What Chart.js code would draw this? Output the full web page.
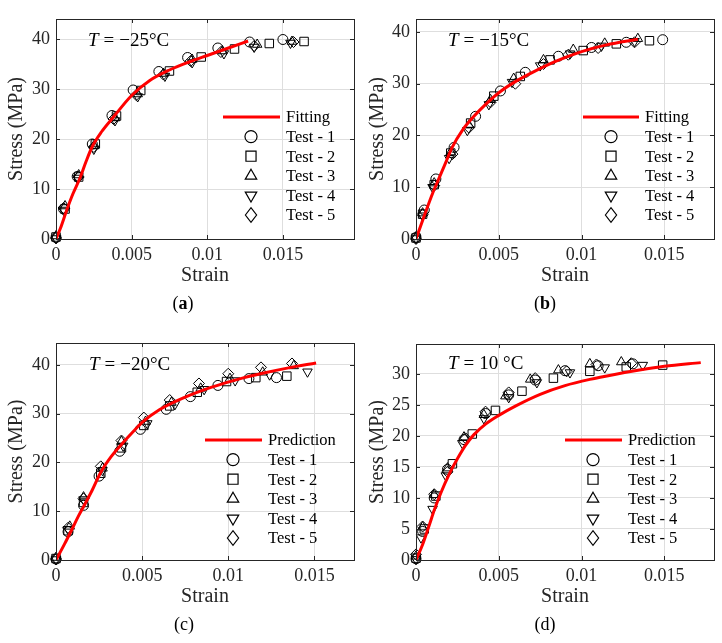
<!DOCTYPE html>
<html>
<head>
<meta charset="utf-8">
<script src="https://cdn.jsdelivr.net/npm/chart.js"></script>
<style>
  body { margin: 0; background: #fff; }
  .panel { position: absolute; width: 361px; height: 321px; }
</style>
</head>
<body>
<div class="panel" style="left:0;top:0"><canvas id="chartA" width="361" height="321"></canvas></div>
<div class="panel" style="left:361px;top:0"><canvas id="chartB" width="361" height="321"></canvas></div>
<div class="panel" style="left:0;top:321px"><canvas id="chartC" width="361" height="321"></canvas></div>
<div class="panel" style="left:361px;top:321px"><canvas id="chartD" width="361" height="321"></canvas></div>
<script>
// [strain, stress (MPa)]

// (a) T = -25 C
const fitA = [[0,0],[0.0003,2.2],[0.0007,5.7],[0.0011,8.9],[0.0016,12.3],[0.002,15.6],[0.0024,18.5],[0.003,21.4],[0.0038,24.4],[0.005,28.7],[0.0062,31.7],[0.0075,33.8],[0.0088,35.4],[0.01,36.7],[0.0114,38.2],[0.0127,39.6]];
const testA1 = [[0,0.3],[0.0005,6.0],[0.0014,12.5],[0.0024,19.0],[0.0037,24.7],[0.0051,29.8],[0.0068,33.5],[0.0087,36.3],[0.0107,38.2],[0.0128,39.4],[0.0150,39.9]];
const testA2 = [[0,0.4],[0.0006,6.0],[0.0015,12.4],[0.0026,19.0],[0.0040,24.6],[0.0056,29.7],[0.0075,33.6],[0.0096,36.4],[0.0118,38.0],[0.0141,39.1],[0.0164,39.5]];
const testA3 = [[0,0.6],[0.0006,6.6],[0.0015,12.8],[0.0025,18.6],[0.0039,24.2],[0.0054,29.0],[0.0071,33.1],[0.0090,35.9],[0.0110,37.6],[0.0133,38.9],[0.0156,39.5]];
const testA4 = [[0,0.1],[0.0005,5.8],[0.0014,12.2],[0.0025,18.0],[0.0039,23.7],[0.0054,28.5],[0.0072,32.6],[0.0090,35.3],[0.0111,37.1],[0.0131,38.4],[0.0155,39.2]];
const testA5 = [[0,0.2],[0.0005,6.2],[0.0015,12.4],[0.0025,18.4],[0.0038,24.0],[0.0053,28.8],[0.0071,32.9],[0.0089,35.6],[0.0109,37.4],[0.0131,38.6],[0.0157,39.4]];

// (b) T = -15 C
const fitB = [[0,0],[0.0005,4.5],[0.001,8.8],[0.0014,11.8],[0.0018,14.8],[0.0022,17.8],[0.0028,21],[0.0035,23.7],[0.0043,26.3],[0.0051,28.5],[0.0061,30.6],[0.0071,32.3],[0.0085,34.4],[0.01,36.2],[0.0115,37.5],[0.0134,38.6]];
const testB1 = [[0,0.3],[0.0005,5.6],[0.0012,11.6],[0.0023,17.7],[0.0036,23.7],[0.0051,28.6],[0.0066,32.2],[0.0086,35.3],[0.0106,37.0],[0.0127,38.0],[0.0149,38.5]];
const testB2 = [[0,0.2],[0.0004,4.8],[0.0011,10.5],[0.0021,16.6],[0.0033,22.4],[0.0047,27.6],[0.0063,31.4],[0.0081,34.6],[0.0101,36.4],[0.0121,37.7],[0.0141,38.3]];
const testB3 = [[0,0.4],[0.0004,5.0],[0.0011,10.8],[0.0021,16.8],[0.0032,22.0],[0.0045,26.9],[0.0059,31.0],[0.0077,34.6],[0.0095,36.6],[0.0114,37.8],[0.0134,38.7]];
const testB4 = [[0,0.1],[0.0004,4.5],[0.0010,10.0],[0.0020,15.6],[0.0031,21.0],[0.0044,26.0],[0.0058,30.3],[0.0075,33.5],[0.0093,35.8],[0.0112,37.3],[0.0132,38.2]];
const testB5 = [[0,0],[0.0004,4.7],[0.0011,10.3],[0.0022,16.4],[0.0032,21.5],[0.0045,26.4],[0.0060,30.0],[0.0077,33.8],[0.0092,35.6],[0.0110,36.9],[0.0132,38.0]];

// (c) T = -20 C
const fitC = [[0,0],[0.0005,3.3],[0.0009,6.1],[0.0013,9],[0.0017,11.6],[0.0021,14.3],[0.0026,18],[0.0032,21.2],[0.0038,23.7],[0.0045,26.4],[0.005,28.2],[0.006,30.8],[0.0075,33.4],[0.009,35.4],[0.0105,37],[0.012,38.3],[0.0135,39.4],[0.0151,40.4]];
const testC1 = [[0,0.2],[0.0007,5.8],[0.0016,11.2],[0.0025,17.2],[0.0037,22.3],[0.0049,26.8],[0.0064,30.9],[0.0078,33.5],[0.0094,35.8],[0.0112,37.2],[0.0128,37.4]];
const testC2 = [[0,0.3],[0.0007,6.0],[0.0016,11.8],[0.0026,17.8],[0.0038,23.0],[0.0051,27.6],[0.0066,31.6],[0.0082,34.4],[0.0099,36.6],[0.0116,37.4],[0.0134,37.7]];
const testC3 = [[0,0.5],[0.0008,6.9],[0.0016,12.9],[0.0027,18.8],[0.0038,24.3],[0.0052,28.4],[0.0067,32.3],[0.0084,35.2],[0.0101,37.2],[0.0120,38.5],[0.0138,39.8]];
const testC4 = [[0,0.1],[0.0007,6.3],[0.0016,12.4],[0.0027,18.4],[0.0039,23.4],[0.0053,28.0],[0.0069,31.9],[0.0086,35.0],[0.0104,36.8],[0.0124,38.0],[0.0146,38.6]];
const testC5 = [[0,0.2],[0.0007,6.6],[0.0016,12.6],[0.0026,19.2],[0.0038,24.5],[0.0051,29.2],[0.0066,32.8],[0.0083,36.2],[0.0100,38.2],[0.0119,39.5],[0.0137,40.3]];

// (d) T = 10 C
const fitD = [[0,0],[0.0004,2.5],[0.0008,5.6],[0.0011,8],[0.0015,10.8],[0.002,13.8],[0.0025,16.3],[0.003,18.5],[0.0035,20.2],[0.0042,21.9],[0.005,23.3],[0.006,24.8],[0.0075,26.7],[0.009,28.1],[0.0105,29.1],[0.012,29.9],[0.0135,30.6],[0.015,31.2],[0.0172,31.8]];
const testD1 = [[0,0.2],[0.0004,4.6],[0.0011,10.0],[0.0019,14.6],[0.0029,19.4],[0.0042,23.6],[0.0056,26.6],[0.0072,29.0],[0.0090,30.5],[0.0110,31.3],[0.0131,31.6]];
const testD2 = [[0,0.3],[0.0005,5.0],[0.0012,10.3],[0.0022,15.5],[0.0034,20.3],[0.0048,24.1],[0.0064,27.2],[0.0083,29.3],[0.0105,30.4],[0.0127,31.1],[0.0149,31.4]];
const testD3 = [[0,0.6],[0.0004,5.3],[0.0011,10.5],[0.0019,14.8],[0.0029,19.8],[0.0041,23.4],[0.0054,26.4],[0.0069,29.1],[0.0086,30.6],[0.0105,31.6],[0.0124,31.9]];
const testD4 = [[0,0.1],[0.0003,3.6],[0.0010,8.2],[0.0018,13.6],[0.0028,18.8],[0.0041,22.8],[0.0056,26.2],[0.0073,28.6],[0.0093,30.2],[0.0114,31.0],[0.0137,31.4]];
const testD5 = [[0,0.9],[0.0004,5.4],[0.0011,10.6],[0.0019,14.2],[0.0030,19.6],[0.0042,23.9],[0.0056,27.0],[0.0072,29.3],[0.0091,30.4],[0.0109,31.5],[0.0130,31.7]];

const testLabels = ['Test - 1', 'Test - 2', 'Test - 3', 'Test - 4', 'Test - 5'];
const strainTicks = [0, 0.005, 0.01, 0.015];
const strainTickLabels = ['0', '0.005', '0.01', '0.015'];
const stressTicks40 = [0, 10, 20, 30, 40];
const stressTicks30 = [0, 5, 10, 15, 20, 25, 30];

const SERIF = '"Liberation Serif", "Times New Roman", serif';
const INK = '#262626';

// MATLAB-like open markers
const markers = [
  { style: 'circle', rot: 0, r: 5.5 },
  { style: 'rect', rot: 0, r: 6.5 },
  { style: 'triangle', rot: 0, r: 6 },
  { style: 'triangle', rot: 180, r: 6 },
  { style: 'rectRot', rot: 0, r: 6 }
];

function drawMark(ctx, m, x, y, scale) {
  const r = m.r * scale;
  ctx.beginPath();
  if (m.style === 'circle') {
    ctx.arc(x, y, r, 0, Math.PI * 2);
  } else if (m.style === 'rect') {
    const s = r * Math.SQRT1_2;
    ctx.rect(x - s, y - s, 2 * s, 2 * s);
  } else if (m.style === 'triangle') {
    const d = m.rot ? -1 : 1;
    ctx.moveTo(x, y - d * r);
    ctx.lineTo(x + 0.866 * r, y + d * r / 2);
    ctx.lineTo(x - 0.866 * r, y + d * r / 2);
    ctx.closePath();
  } else {
    ctx.moveTo(x - r * 0.85, y);
    ctx.lineTo(x, y - r * 1.1);
    ctx.lineTo(x + r * 0.85, y);
    ctx.lineTo(x, y + r * 1.1);
    ctx.closePath();
  }
  ctx.stroke();
}

// box, inward ticks, temperature note, legend and caption
const decor = {
  id: 'decor',
  afterDatasetsDraw(chart, args, o) {
    const { ctx, chartArea: ca, scales: { x, y } } = chart;
    ctx.save();
    ctx.strokeStyle = INK;
    ctx.lineWidth = 1;
    ctx.beginPath();
    x.ticks.forEach(t => {
      const px = Math.round(x.getPixelForValue(t.value)) + 0.5;
      ctx.moveTo(px, ca.bottom); ctx.lineTo(px, ca.bottom - 4);
      ctx.moveTo(px, ca.top); ctx.lineTo(px, ca.top + 4);
    });
    y.ticks.forEach(t => {
      const py = Math.round(y.getPixelForValue(t.value)) + 0.5;
      ctx.moveTo(ca.left, py); ctx.lineTo(ca.left + 4, py);
      ctx.moveTo(ca.right, py); ctx.lineTo(ca.right - 4, py);
    });
    ctx.stroke();
    const l = Math.round(ca.left) + 0.5, t = Math.round(ca.top) + 0.5;
    ctx.strokeRect(l, t, Math.round(ca.right) - Math.round(ca.left), Math.round(ca.bottom) - Math.round(ca.top));

    // temperature note
    ctx.fillStyle = '#000';
    ctx.textBaseline = 'middle';
    ctx.textAlign = 'left';
    ctx.font = 'italic 19px ' + SERIF;
    let nx = o.note.x;
    ctx.fillText('T', nx, o.note.y);
    nx += ctx.measureText('T').width + 5;
    ctx.font = '19px ' + SERIF;
    ctx.fillText('=', nx, o.note.y);
    nx += ctx.measureText('=').width + 5;
    ctx.fillText(o.note.text, nx, o.note.y);

    // legend
    const lg = o.legend;
    ctx.font = '16.5px ' + SERIF;
    chart.data.datasets.forEach((ds, i) => {
      const ry = lg.y + i * 19.6;
      if (i === 0) {
        ctx.strokeStyle = ds.borderColor;
        ctx.lineWidth = 3;
        ctx.beginPath();
        ctx.moveTo(lg.x0, ry); ctx.lineTo(lg.x1, ry);
        ctx.stroke();
      } else {
        ctx.strokeStyle = '#000';
        ctx.lineWidth = 1.2;
        drawMark(ctx, markers[i - 1], lg.mx, ry, 1.1);
      }
      ctx.fillStyle = '#000';
      ctx.fillText(ds.label, lg.tx, ry + 1);
    });

    // caption
    ctx.textAlign = 'left';
    ctx.font = '18px ' + SERIF;
    const cap = o.caption;
    const lf = cap.bold ? 'bold 18px ' + SERIF : '18px ' + SERIF;
    ctx.font = lf;
    const wl = ctx.measureText(cap.letter).width;
    ctx.font = '18px ' + SERIF;
    const wp = ctx.measureText('(').width;
    let cx = cap.x - (wl + 2 * wp) / 2;
    ctx.fillText('(', cx, cap.y);
    ctx.font = lf;
    ctx.fillText(cap.letter, cx + wp, cap.y);
    ctx.font = '18px ' + SERIF;
    ctx.fillText(')', cx + wp + wl, cap.y);
    ctx.restore();
  }
};

function buildChart(id, p) {
  const datasets = [{
    label: p.fitLabel,
    data: p.fit.map(([sx, sy]) => ({ x: sx, y: sy })),
    showLine: true,
    borderColor: '#ff0000',
    borderWidth: 3,
    pointRadius: 0,
    cubicInterpolationMode: 'monotone',
    fill: false
  }];
  p.tests.forEach((t, i) => {
    const m = markers[i];
    datasets.push({
      label: testLabels[i],
      data: t.map(([sx, sy]) => ({ x: sx, y: sy })),
      showLine: false,
      pointStyle: m.style,
      pointRotation: m.rot,
      pointRadius: m.r - 0.5,
      pointBorderColor: '#000',
      pointBackgroundColor: 'rgba(0,0,0,0)',
      pointBorderWidth: 1,
      clip: false
    });
  });
  const tickFont = { family: SERIF, size: 18 };
  const titleFont = { family: SERIF, size: 20 };
  new Chart(document.getElementById(id), {
    type: 'scatter',
    data: { datasets },
    plugins: [decor],
    options: {
      responsive: false,
      animation: false,
      events: [],
      layout: { padding: { left: 0, top: p.top, right: p.right, bottom: 33 } },
      plugins: {
        legend: { display: false },
        tooltip: { enabled: false },
        decor: { note: p.note, legend: p.legend, caption: p.caption }
      },
      scales: {
        x: {
          type: 'linear',
          min: 0,
          max: p.xMax,
          afterBuildTicks: s => { s.ticks = strainTicks.map(v => ({ value: v })); },
          afterFit: s => { s.height = 49; },
          ticks: { callback: (v, i) => strainTickLabels[i], font: tickFont, color: INK, padding: 5, maxRotation: 0, autoSkip: false },
          grid: { color: '#dedede', drawTicks: false },
          border: { display: false },
          title: { display: true, text: 'Strain', font: titleFont, color: INK, padding: { top: 0, bottom: 0 } }
        },
        y: {
          type: 'linear',
          min: 0,
          max: p.yMax,
          afterBuildTicks: s => { s.ticks = p.yTicks.map(v => ({ value: v })); },
          afterFit: s => { s.width = p.left; },
          ticks: { callback: v => String(v), font: tickFont, color: INK, padding: 6, autoSkip: false },
          grid: { color: '#dedede', drawTicks: false },
          border: { display: false },
          title: { display: true, text: 'Stress (MPa)', font: titleFont, color: INK, padding: { top: 5, bottom: 0 } }
        }
      }
    }
  });
}

buildChart('chartA', {
  fit: fitA, fitLabel: 'Fitting', tests: [testA1, testA2, testA3, testA4, testA5],
  xMax: 0.0197, yMax: 44, yTicks: stressTicks40,
  top: 19, right: 7, left: 56,
  note: { x: 88, y: 41, text: '\u221225\u00b0C' },
  legend: { x0: 223, x1: 280, mx: 251, tx: 286, y: 117 },
  caption: { letter: 'a', bold: true, x: 183, y: 304 }
});
buildChart('chartB', {
  fit: fitB, fitLabel: 'Fitting', tests: [testB1, testB2, testB3, testB4, testB5],
  xMax: 0.018, yMax: 42.5, yTicks: stressTicks40,
  top: 19, right: 8, left: 55,
  note: { x: 87, y: 41, text: '\u221215\u00b0C' },
  legend: { x0: 222, x1: 278, mx: 250, tx: 284, y: 117 },
  caption: { letter: 'b', bold: true, x: 184, y: 304 }
});
buildChart('chartC', {
  fit: fitC, fitLabel: 'Prediction', tests: [testC1, testC2, testC3, testC4, testC5],
  xMax: 0.0173, yMax: 44.5, yTicks: stressTicks40,
  top: 22, right: 7, left: 56,
  note: { x: 89, y: 44, text: '\u221220\u00b0C' },
  legend: { x0: 205, x1: 262, mx: 233, tx: 268, y: 119 },
  caption: { letter: 'c', bold: false, x: 184, y: 304 }
});
buildChart('chartD', {
  fit: fitD, fitLabel: 'Prediction', tests: [testD1, testD2, testD3, testD4, testD5],
  xMax: 0.018, yMax: 34.8, yTicks: stressTicks30,
  top: 23, right: 8, left: 55,
  note: { x: 87, y: 43, text: '10 \u00b0C' },
  legend: { x0: 204, x1: 261, mx: 232, tx: 267, y: 119 },
  caption: { letter: 'd', bold: false, x: 184, y: 304 }
});
</script>
</body>
</html>
